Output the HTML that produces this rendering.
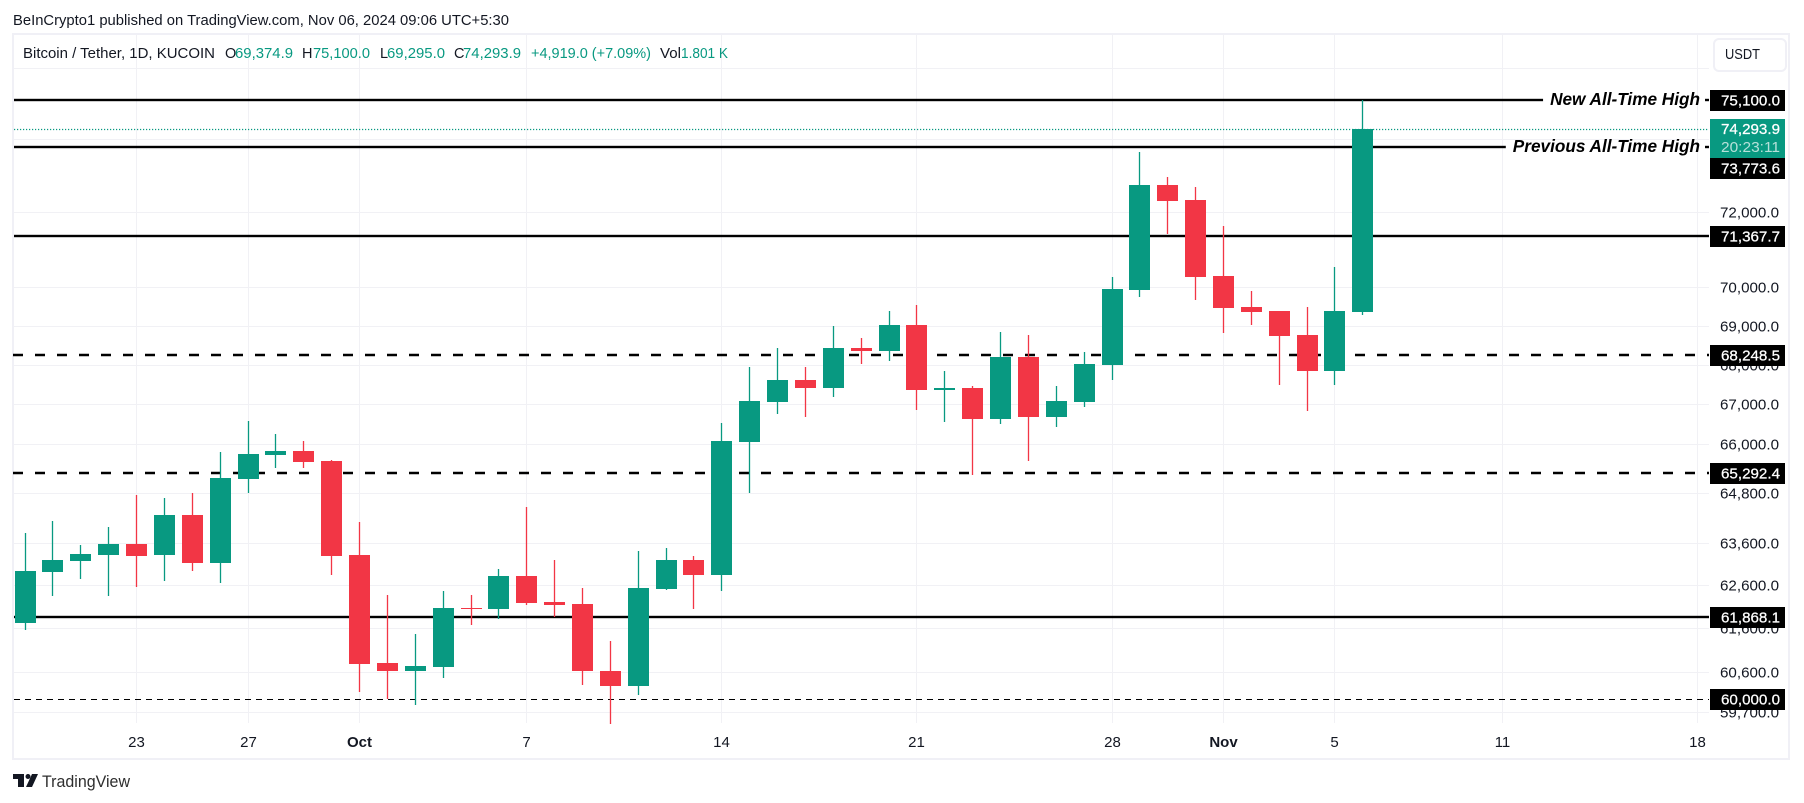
<!DOCTYPE html>
<html lang="en">
<head>
<meta charset="utf-8">
<title>Bitcoin / Tether 1D candlestick chart</title>
<style>
html,body{margin:0;padding:0;background:#fff;}
svg{display:block;font-family:"Liberation Sans",sans-serif;}
</style>
</head>
<body>
<svg id="chart" xmlns="http://www.w3.org/2000/svg" width="1804" height="803" viewBox="0 0 1804 803">
  <rect x="0" y="0" width="1804" height="803" fill="#ffffff"/>
  <text x="13" y="25" font-size="14.5" fill="#131722" textLength="496" lengthAdjust="spacingAndGlyphs">BeInCrypto1 published on TradingView.com, Nov 06, 2024 09:06 UTC+5:30</text>
  <rect x="13" y="34" width="1776" height="725" fill="none" stroke="#f0f0f6" stroke-width="2"/>
  <g id="grid"></g>
  <g id="levels"></g>
  <g id="candles"></g>
  <g id="priceAxis"></g>
  <g id="timeAxis"></g>
  <g id="tags"></g>

  <g font-size="14.5" fill="#131722">
    <text x="23" y="58" textLength="192" lengthAdjust="spacingAndGlyphs">Bitcoin / Tether, 1D, KUCOIN</text>
    <text x="225" y="58">O</text>
    <text x="235" y="58" fill="#089981" textLength="58" lengthAdjust="spacingAndGlyphs">69,374.9</text>
    <text x="302" y="58">H</text>
    <text x="313" y="58" fill="#089981" textLength="57" lengthAdjust="spacingAndGlyphs">75,100.0</text>
    <text x="380" y="58">L</text>
    <text x="387" y="58" fill="#089981" textLength="58" lengthAdjust="spacingAndGlyphs">69,295.0</text>
    <text x="454" y="58">C</text>
    <text x="463" y="58" fill="#089981" textLength="58" lengthAdjust="spacingAndGlyphs">74,293.9</text>
    <text x="531" y="58" fill="#089981" textLength="120" lengthAdjust="spacingAndGlyphs">+4,919.0 (+7.09%)</text>
    <text x="660" y="58" textLength="21" lengthAdjust="spacingAndGlyphs">Vol</text>
    <text x="681" y="58" fill="#089981" textLength="47" lengthAdjust="spacingAndGlyphs">1.801 K</text>
  </g>

  <g>
    <rect x="1714" y="39" width="72" height="32" rx="5" fill="#ffffff" stroke="#f0f0f6" stroke-width="2"/>
    <text x="1725" y="59" font-size="14.5" fill="#131722" textLength="35" lengthAdjust="spacingAndGlyphs">USDT</text>
  </g>

  <g>
    <path d="M13 774H24V787H18V779H13ZM32 774H38L32 787H26Z" fill="#131722"/>
    <circle cx="28" cy="776.5" r="2.5" fill="#131722"/>
    <text x="42" y="787" font-size="16.5" fill="#2e2e2e" textLength="88" lengthAdjust="spacingAndGlyphs">TradingView</text>
  </g>
</svg>
<script>
// Daily candles, 19 Sep 2024 to 6 Nov 2024
const dates = ['Sep 19','Sep 20','Sep 21','Sep 22','Sep 23','Sep 24','Sep 25','Sep 26','Sep 27','Sep 28','Sep 29','Sep 30','Oct 1','Oct 2','Oct 3','Oct 4','Oct 5','Oct 6','Oct 7','Oct 8','Oct 9','Oct 10','Oct 11','Oct 12','Oct 13','Oct 14','Oct 15','Oct 16','Oct 17','Oct 18','Oct 19','Oct 20','Oct 21','Oct 22','Oct 23','Oct 24','Oct 25','Oct 26','Oct 27','Oct 28','Oct 29','Oct 30','Oct 31','Nov 1','Nov 2','Nov 3','Nov 4','Nov 5','Nov 6'];
const opens = [61738,62929,63189,63331,63592,63331,64287,63142,65160,65748,65847,65601,63331,60820,60638,60729,62086,62063,62834,62226,62179,60638,60298,62529,63212,62858,66069,67067,67622,67419,68437,68360,69029,67369,67419,66641,68207,66691,67067,68003,69940,72746,72339,70308,69496,69392,68771,67850,69374.9];
const highs = [63855,64143,63569,63999,64770,64698,64819,65822,66591,66267,66094,65625,64119,62389,61484,62483,62389,63000,64480,63212,62553,61323,63426,63497,63308,66541,67952,68437,67952,69003,68694,69392,69549,67850,67470,68849,68771,67470,68335,70282,73651,72965,72692,71638,69914,69392,69496,70545,75100];
const lows = [61576,62366,62764,62366,62576,62717,62952,62670,64819,65429,65429,62858,60163,60005,59870,60479,61692,61830,62156,61877,60321,59446,60095,62506,62063,62483,64819,66766,66691,67193,68028,68105,66866,66566,65257,66516,65601,66441,66941,67622,69757,71423,69679,68823,69029,67495,66841,67495,69295];
const closes = [62952,63212,63355,63592,63308,64287,63142,65184,65773,65847,65576,63308,60797,60638,60752,62086,62063,62834,62202,62156,60638,60298,62553,63212,62858,66094,67092,67622,67419,68437,68360,69029,67369,67419,66641,68207,66691,67092,68028,69967,72746,72312,70282,69470,69367,68745,67850,69392,74293.9];

// Axis ticks
const gridOnlyPrices = [76000,74000];
const labelledPrices = [72000,70000,69000,68000,67000,66000,64800,63600,62600,61600,60600,59700];
const timeTickIndexes = [4,8,12,18,25,32,39,43,47,53,60];
const timeTickLabels = ['23','27','Oct','7','14','21','28','Nov','5','11','18'];

// Horizontal levels drawn on the chart
const solidLevels = [75100,73773.6,71367.7,61868.1];
const heavyDashedLevels = [68248.5,65292.4];
const lightDashedLevels = [60000];
const annotationPrices = [75100,73773.6];
const annotationLabels = ['New All-Time High','Previous All-Time High'];
const countdownLabel = '20:23:11';

const NS = 'http://www.w3.org/2000/svg';
const UP = '#089981', DOWN = '#f23645';
const PLOT_L = 14, PLOT_R = 1709, PLOT_T = 35, PLOT_B = 723;
const TAG_X = 1710, TAG_W = 75;

function rawY(v){ return 100 + 2669.4 * Math.log(75100 / v); }
function Y(v){ return Math.round(rawY(v)); }
function X(i){ return Math.floor(25.1 + 27.87 * i); }
function fmt(v){ return v.toLocaleString('en-US',{minimumFractionDigits:1,maximumFractionDigits:1}); }
function make(tag, attrs, parent){
  const el = document.createElementNS(NS, tag);
  for (const k in attrs) el.setAttribute(k, attrs[k]);
  parent.appendChild(el);
  return el;
}
const gridG = document.getElementById('grid');
const levelsG = document.getElementById('levels');
const candlesG = document.getElementById('candles');
const priceG = document.getElementById('priceAxis');
const timeG = document.getElementById('timeAxis');
const tagsG = document.getElementById('tags');
const GRID = '#f1f1f5';

// Grid
gridOnlyPrices.concat(labelledPrices).forEach(function(p){
  const line = make('rect',{x:PLOT_L,y:Math.floor(rawY(p)),width:PLOT_R-PLOT_L,height:1,fill:GRID},gridG);
  
  
});
timeTickIndexes.forEach(function(idx, n){
  const line = make('rect',{x:X(idx),y:PLOT_T,width:1,height:PLOT_B-PLOT_T,fill:GRID},gridG);
  
  
  const label = make('text',{x:X(idx)+0.5,y:747,'text-anchor':'middle','font-size':15,fill:'#131722','font-weight':isNaN(timeTickLabels[n])?'bold':'normal'},timeG);
  label.textContent = timeTickLabels[n];
  
  
});

// Levels
solidLevels.forEach(function(p){
  const line = make('rect',{x:PLOT_L,y:Math.floor(rawY(p))-1.2,width:PLOT_R-PLOT_L,height:2.4,fill:'#000'},levelsG);
  
  
});
heavyDashedLevels.forEach(function(p){
  const yy = Math.floor(rawY(p));
  const line = make('line',{x1:13,x2:PLOT_R,y1:yy,y2:yy,stroke:'#000','stroke-width':2.4,'stroke-dasharray':'10 12'},levelsG);
  
  
});
lightDashedLevels.forEach(function(p){
  const yy = Math.floor(rawY(p)) + 0.5;
  const line = make('line',{x1:PLOT_L,x2:PLOT_R,y1:yy,y2:yy,stroke:'#000','stroke-width':1,'stroke-dasharray':'6 5'},levelsG);
  
  
});

// Last price dotted line
const lastClose = closes[closes.length-1];
const lastLine = make('line',{x1:PLOT_L,x2:PLOT_R,y1:Y(lastClose)+0.5,y2:Y(lastClose)+0.5,stroke:UP,'stroke-width':1.3,'stroke-dasharray':'1.2 1.8'},levelsG);



// Annotations
annotationLabels.forEach(function(txt, n){
  const yy = Math.floor(rawY(annotationPrices[n]));
  const gap = make('rect',{x:1400,y:yy-2,width:305,height:4,fill:'#fff'},levelsG);
  
  
  const t = make('text',{x:1700,y:yy+5,'text-anchor':'end','font-size':17.2,'font-weight':'bold','font-style':'italic',fill:'#000'},levelsG);
  t.textContent = txt;
  
  
  const w = t.getComputedTextLength();
  gap.setAttribute('x', 1700 - w - 7);
  gap.setAttribute('width', w + 12);
});

// Candles
dates.forEach(function(d, i){
  const up = closes[i] >= opens[i];
  const col = up ? UP : DOWN;
  const top = Y(Math.max(opens[i], closes[i]));
  const bot = Y(Math.min(opens[i], closes[i]));
  const g = make('g',{},candlesG);
  
  
  const wick = make('rect',{x:X(i)-0.15,y:Y(highs[i]),width:1.3,height:Math.max(1,Y(lows[i])-Y(highs[i])),fill:col},g);
  
  
  const body = make('rect',{x:X(i)-10,y:top,width:21,height:Math.max(1,bot-top),fill:col},g);
  
  
});

// Price axis labels
labelledPrices.forEach(function(p){
  const t = make('text',{x:1720,y:Math.floor(rawY(p))+5.5,'font-size':15,fill:'#131722',textLength:59,lengthAdjust:'spacingAndGlyphs'},priceG);
  t.textContent = fmt(p);
  
  
});

// Last price tag
const lastTop = Y(lastClose) - 10;
const lastTag = make('rect',{x:TAG_X,y:lastTop,width:TAG_W,height:39,fill:UP},tagsG);


const lastText = make('text',{x:1721,y:lastTop+15,'font-size':15,fill:'#fff',stroke:'#fff','stroke-width':0.25,textLength:59,lengthAdjust:'spacingAndGlyphs'},tagsG);
lastText.textContent = fmt(lastClose);


const cdText = make('text',{x:1721,y:lastTop+33,'font-size':15,fill:'#b5e0d9',textLength:59,lengthAdjust:'spacingAndGlyphs'},tagsG);
cdText.textContent = countdownLabel;



// Level tags
solidLevels.concat(heavyDashedLevels, lightDashedLevels).forEach(function(p){
  let cy = Math.floor(rawY(p));
  if (cy + 10 > lastTop && cy - 10 < lastTop + 39) cy = lastTop + 39 + 10;
  const r = make('rect',{x:TAG_X,y:cy-10,width:TAG_W,height:21,fill:'#000'},tagsG);
  
  
  const t = make('text',{x:1721,y:cy+5.5,'font-size':15,fill:'#fff',stroke:'#fff','stroke-width':0.25,textLength:59,lengthAdjust:'spacingAndGlyphs'},tagsG);
  t.textContent = fmt(p);
  
  
});
</script>
</body>
</html>
